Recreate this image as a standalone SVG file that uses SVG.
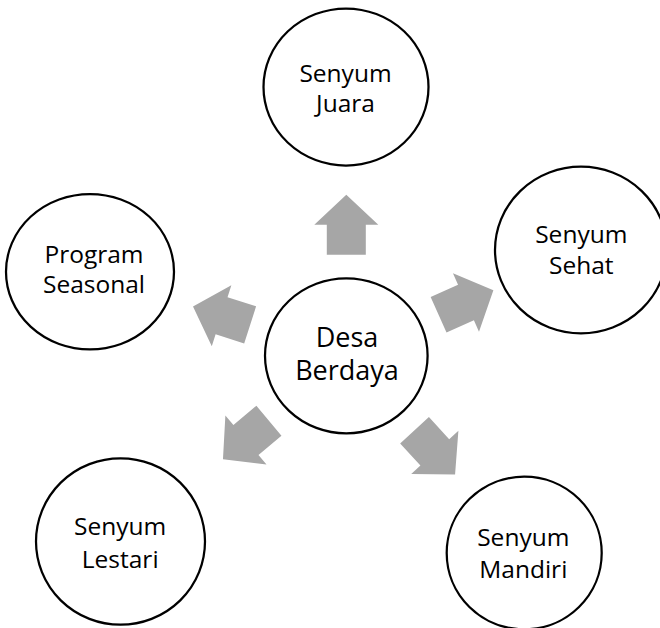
<svg xmlns="http://www.w3.org/2000/svg" width="660" height="628" viewBox="0 0 660 628">
  <style>
    .node ellipse { fill: #FFFFFF; stroke: #000000; stroke-width: 2.25; }
    .node text { font-family: "Open Sans", "Noto Sans", sans-serif; font-size: 24.5px; fill: #000000; text-anchor: middle; }
    #center text { font-size: 27px; }
    .arrow { fill: #A6A6A6; stroke: none; }
  </style>
  <defs>
    <polygon id="arrowShape" class="arrow" points="101,-19.5 131,-19.5 131,-32 161,0 131,32 131,19.5 101,19.5"/>
  </defs>
  <rect width="660" height="628" fill="#FFFFFF"/>

  <g id="connectors">
    <use href="#arrowShape" transform="translate(346.3 355.8) rotate(-90)"/>
    <use href="#arrowShape" transform="translate(346.3 355.8) rotate(-24)"/>
    <use href="#arrowShape" transform="translate(346.3 355.8) rotate(47.5)"/>
    <use href="#arrowShape" transform="translate(346.3 355.8) rotate(140)"/>
    <use href="#arrowShape" transform="translate(346.3 355.8) rotate(197.8)"/>
  </g>

  <g id="center" class="node">
    <ellipse cx="346.3" cy="355.8" rx="81.3" ry="77.5"/>
    <text x="347" y="346.5">Desa</text>
    <text x="347" y="380">Berdaya</text>
  </g>

  <g id="senyum-juara" class="node">
    <ellipse cx="346" cy="87" rx="82.5" ry="78.5"/>
    <text x="345.5" y="81.5">Senyum</text>
    <text x="345.5" y="111.7">Juara</text>
  </g>

  <g id="senyum-sehat" class="node">
    <ellipse cx="581" cy="250" rx="86" ry="83.3"/>
    <text x="581.3" y="243.3">Senyum</text>
    <text x="581.3" y="274">Sehat</text>
  </g>

  <g id="senyum-mandiri" class="node">
    <ellipse cx="524.2" cy="553" rx="77.5" ry="76.3"/>
    <text x="523.3" y="545.7">Senyum</text>
    <text x="523.3" y="577.7">Mandiri</text>
  </g>

  <g id="senyum-lestari" class="node">
    <ellipse cx="120.5" cy="541.5" rx="84.5" ry="83.2"/>
    <text x="120.2" y="535">Senyum</text>
    <text x="120.2" y="567.7">Lestari</text>
  </g>

  <g id="program-seasonal" class="node">
    <ellipse cx="90" cy="271.7" rx="84" ry="77.7"/>
    <text x="94" y="263.3">Program</text>
    <text x="94" y="293.3">Seasonal</text>
  </g>
</svg>
